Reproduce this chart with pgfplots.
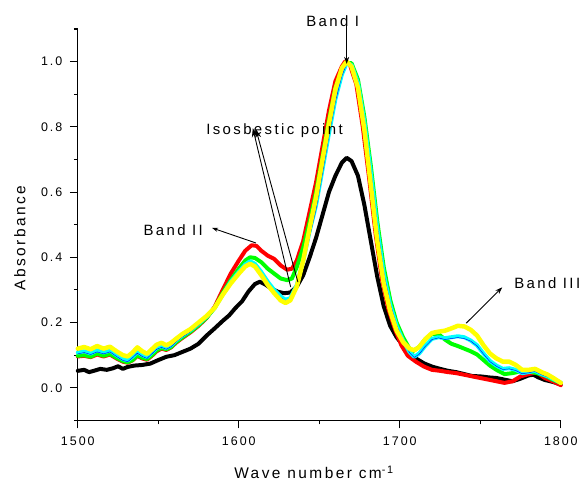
\documentclass[border=0pt]{standalone}
\usepackage{fontspec}
\setmainfont{Liberation Sans}
\newfontfamily\spfont[LetterSpace=16]{Liberation Sans}
\usepackage{pgfplots}
\pgfplotsset{compat=1.18}
\usetikzlibrary{arrows.meta}
\definecolor{cyanc}{RGB}{0,255,255}
\definecolor{yellowc}{RGB}{255,255,0}
\definecolor{greenc}{RGB}{0,255,0}
\definecolor{redc}{RGB}{255,0,0}
\definecolor{bluec}{RGB}{0,0,255}

\pgfplotstableread{
x y
1500 0.052
1504 0.055
1507 0.048
1510 0.052
1514 0.058
1518 0.055
1522 0.060
1525 0.066
1528 0.058
1531 0.064
1535 0.068
1540 0.070
1545 0.074
1550 0.085
1555 0.095
1560 0.100
1565 0.110
1570 0.120
1575 0.135
1580 0.160
1585 0.182
1590 0.205
1594 0.222
1598 0.245
1602 0.265
1606 0.295
1610 0.318
1613 0.325
1616 0.318
1620 0.305
1624 0.295
1628 0.290
1632 0.292
1636 0.310
1640 0.345
1644 0.400
1648 0.460
1652 0.530
1656 0.600
1660 0.650
1664 0.690
1667 0.705
1670 0.695
1674 0.650
1678 0.560
1682 0.450
1686 0.340
1690 0.250
1694 0.190
1698 0.155
1702 0.130
1706 0.110
1710 0.090
1715 0.075
1720 0.065
1725 0.058
1730 0.052
1735 0.048
1740 0.042
1745 0.036
1750 0.035
1755 0.032
1760 0.030
1765 0.025
1770 0.020
1775 0.028
1780 0.038
1783 0.040
1786 0.032
1790 0.024
1795 0.018
1800 0.010
}\blackdata

\pgfplotstableread{
x y
1500 0.096
1504 0.098
1508 0.094
1512 0.102
1516 0.096
1520 0.102
1524 0.090
1528 0.080
1531 0.077
1534 0.084
1537 0.098
1540 0.090
1543 0.086
1546 0.098
1549 0.112
1552 0.120
1555 0.116
1558 0.124
1561 0.138
1565 0.153
1570 0.170
1575 0.190
1580 0.214
1585 0.248
1590 0.300
1595 0.350
1600 0.390
1604 0.420
1608 0.437
1611 0.435
1614 0.420
1618 0.405
1622 0.395
1626 0.375
1630 0.362
1633 0.365
1636 0.390
1640 0.450
1644 0.540
1648 0.630
1652 0.740
1656 0.850
1660 0.940
1664 0.985
1666 1.000
1669 0.990
1673 0.930
1677 0.800
1681 0.640
1685 0.470
1689 0.330
1693 0.240
1697 0.180
1701 0.130
1705 0.098
1710 0.080
1715 0.065
1720 0.055
1725 0.052
1730 0.048
1735 0.045
1740 0.040
1745 0.035
1750 0.030
1755 0.025
1760 0.020
1765 0.015
1770 0.020
1775 0.035
1780 0.042
1785 0.048
1790 0.030
1795 0.020
1800 0.008
}\reddata

\pgfplotstableread{
x y
1500 0.098
1504 0.100
1508 0.095
1512 0.105
1516 0.098
1520 0.104
1524 0.092
1528 0.082
1531 0.078
1534 0.085
1537 0.100
1540 0.092
1543 0.088
1546 0.100
1549 0.115
1552 0.122
1555 0.118
1558 0.125
1561 0.140
1565 0.155
1570 0.172
1575 0.192
1580 0.215
1585 0.245
1590 0.290
1595 0.330
1600 0.365
1604 0.390
1607 0.400
1610 0.398
1614 0.385
1618 0.365
1622 0.350
1626 0.335
1630 0.330
1633 0.335
1636 0.370
1640 0.430
1644 0.510
1648 0.600
1652 0.710
1656 0.820
1660 0.920
1664 0.975
1667 0.995
1670 0.995
1674 0.945
1678 0.830
1682 0.680
1686 0.510
1690 0.370
1694 0.270
1698 0.200
1702 0.155
1706 0.120
1708 0.112
1712 0.125
1716 0.150
1720 0.165
1724 0.165
1728 0.148
1732 0.135
1736 0.128
1740 0.120
1744 0.112
1748 0.102
1752 0.085
1756 0.068
1760 0.055
1765 0.042
1770 0.045
1775 0.050
1780 0.050
1785 0.045
1790 0.038
1795 0.025
1800 0.015
}\greendata

\pgfplotstableread{
x y
1500 0.108
1504 0.112
1508 0.105
1512 0.115
1516 0.108
1520 0.114
1524 0.100
1528 0.088
1531 0.084
1534 0.095
1537 0.110
1540 0.100
1543 0.094
1546 0.108
1549 0.122
1552 0.128
1555 0.122
1558 0.130
1561 0.145
1565 0.160
1570 0.176
1575 0.196
1580 0.218
1585 0.245
1590 0.285
1595 0.325
1600 0.355
1604 0.378
1607 0.388
1610 0.380
1614 0.355
1618 0.325
1622 0.300
1626 0.280
1629 0.270
1632 0.275
1636 0.315
1640 0.390
1644 0.480
1648 0.560
1652 0.670
1656 0.780
1660 0.885
1664 0.960
1667 0.995
1670 0.990
1674 0.935
1678 0.815
1682 0.660
1686 0.490
1690 0.350
1694 0.255
1698 0.190
1702 0.145
1706 0.110
1709 0.095
1712 0.105
1716 0.130
1720 0.150
1724 0.155
1728 0.152
1732 0.155
1736 0.158
1740 0.155
1744 0.145
1748 0.130
1752 0.105
1756 0.082
1760 0.068
1764 0.058
1768 0.060
1772 0.055
1776 0.045
1780 0.048
1784 0.052
1788 0.042
1792 0.035
1796 0.025
1800 0.015
}\cyandata

\pgfplotstableread{
x y
1500 0.104
1504 0.108
1508 0.102
1512 0.110
1516 0.104
1520 0.110
1524 0.096
1528 0.084
1531 0.080
1534 0.092
1537 0.106
1540 0.096
1543 0.090
1546 0.104
1549 0.118
1552 0.124
1555 0.118
1558 0.126
1561 0.141
1565 0.156
1570 0.172
1575 0.192
1580 0.214
1585 0.241
1590 0.281
1595 0.321
1600 0.351
1604 0.374
1607 0.384
1610 0.376
1614 0.350
1618 0.320
1622 0.296
1626 0.276
1629 0.266
1632 0.272
1636 0.303
1640 0.373
1644 0.463
1648 0.548
1652 0.658
1656 0.773
1660 0.878
1664 0.956
1667 0.993
1670 0.992
1674 0.940
1678 0.822
1682 0.667
1686 0.497
1690 0.354
1694 0.258
1698 0.192
1702 0.145
1706 0.108
1709 0.093
1712 0.103
1716 0.128
1720 0.148
1724 0.153
1728 0.148
1732 0.151
1736 0.154
1740 0.151
1744 0.143
1748 0.128
1752 0.103
1756 0.080
1760 0.066
1764 0.056
1768 0.058
1772 0.053
1776 0.043
1780 0.046
1784 0.050
1788 0.040
1792 0.033
1796 0.023
1800 0.013
}\bluedata

\pgfplotstableread{
x y
1500 0.120
1504 0.125
1508 0.118
1512 0.128
1516 0.120
1520 0.126
1524 0.112
1528 0.100
1531 0.096
1534 0.108
1537 0.124
1540 0.112
1543 0.104
1546 0.118
1549 0.132
1552 0.138
1555 0.130
1558 0.138
1561 0.150
1565 0.165
1570 0.180
1575 0.200
1580 0.220
1585 0.245
1590 0.285
1595 0.320
1600 0.350
1604 0.372
1607 0.380
1610 0.372
1614 0.345
1618 0.315
1622 0.290
1626 0.268
1629 0.260
1632 0.268
1636 0.310
1640 0.390
1644 0.490
1648 0.585
1652 0.700
1656 0.810
1660 0.915
1664 0.980
1667 1.000
1670 0.985
1674 0.920
1678 0.790
1682 0.620
1686 0.450
1690 0.320
1694 0.235
1698 0.175
1702 0.140
1706 0.120
1709 0.115
1712 0.125
1716 0.150
1720 0.168
1724 0.172
1728 0.175
1732 0.182
1736 0.190
1740 0.188
1744 0.178
1748 0.160
1752 0.130
1756 0.105
1760 0.090
1764 0.080
1768 0.080
1772 0.070
1776 0.055
1780 0.055
1784 0.058
1788 0.048
1792 0.040
1796 0.028
1800 0.015
}\yellowdata

\begin{document}
\begin{tikzpicture}
\begin{axis}[
  scale only axis,
  width=485pt, height=393pt,
  xmin=1500, xmax=1800,
  ymin=-0.1, ymax=1.1,
  xtick={1500,1600,1700,1800},
  ytick={0,0.2,0.4,0.6,0.8,1.0},
  minor x tick num=1,
  minor y tick num=1,
  extra y ticks={-0.1,1.1},
  extra y tick labels={},
  extra y tick style={major tick length=4pt},
  axis lines=left,
  axis line style={-, line width=1.3pt},
  tick style={line width=1.1pt, black},
  tick align=outside,
  major tick length=8pt,
  minor tick length=4pt,
  clip=false,
  /pgf/number format/assume math mode=true,
  /pgf/number format/fixed,
  /pgf/number format/fixed zerofill,
  yticklabel style={/pgf/number format/precision=1, font=\fontsize{12.5}{14}\spfont, xshift=-4pt},
  xticklabel style={/pgf/number format/1000 sep={}, /pgf/number format/precision=0, font=\fontsize{12.5}{14}\spfont, yshift=-5pt},
  xlabel={Wave number cm\textsuperscript{-1}},
  ylabel={Absorbance},
  label style={font=\fontsize{15.5}{17}\spfont},
  xlabel style={at={(axis description cs:0.489,-0.132)}, anchor=center},
  ylabel style={at={(axis description cs:-0.12,0.466)}, anchor=center},
  every axis plot/.append style={line join=round, line cap=round},
]
\addplot[black, line width=4pt] table {\blackdata};
\addplot[redc, line width=4pt] table {\reddata};
\addplot[greenc, line width=4pt] table {\greendata};
\addplot[cyanc, line width=4pt] table {\cyandata};
\addplot[bluec, line width=0.45pt] table {\bluedata};
\addplot[yellowc, line width=4.5pt] table {\yellowdata};

\path (rel axis cs:-0.161,-0.153) rectangle (rel axis cs:1.037,1.074);

\node[font=\fontsize{15}{17}\spfont] at (axis cs:1658.3,1.123) {Band I};
\draw[-{Stealth[length=7pt,width=5pt]}, line width=1pt] (axis cs:1667,1.112) -- (axis cs:1667,0.993);

\node[font=\fontsize{15}{17}\spfont, anchor=west, inner sep=0pt] at (axis cs:1579.7,0.787) {Isosbestic point};
\draw[-{Stealth[length=9pt,width=6pt]}, line width=0.9pt] (axis cs:1632.2,0.309) -- (axis cs:1608.7,0.796);
\draw[-{Stealth[length=9pt,width=6pt]}, line width=0.9pt] (axis cs:1636.7,0.324) -- (axis cs:1610.6,0.793);

\node[font=\fontsize{15}{17}\spfont] at (axis cs:1559.3,0.484) {Band II};
\draw[-{Stealth[length=6pt,width=4pt]}, line width=0.9pt] (axis cs:1610.6,0.444) -- (axis cs:1583.4,0.490);

\node[font=\fontsize{15}{17}\spfont, anchor=west, inner sep=0pt] at (axis cs:1771,0.321) {Band III};
\draw[-{Stealth[length=7pt,width=5pt]}, line width=0.9pt] (axis cs:1741.2,0.198) -- (axis cs:1763.6,0.308);
\end{axis}
\end{tikzpicture}
\end{document}
